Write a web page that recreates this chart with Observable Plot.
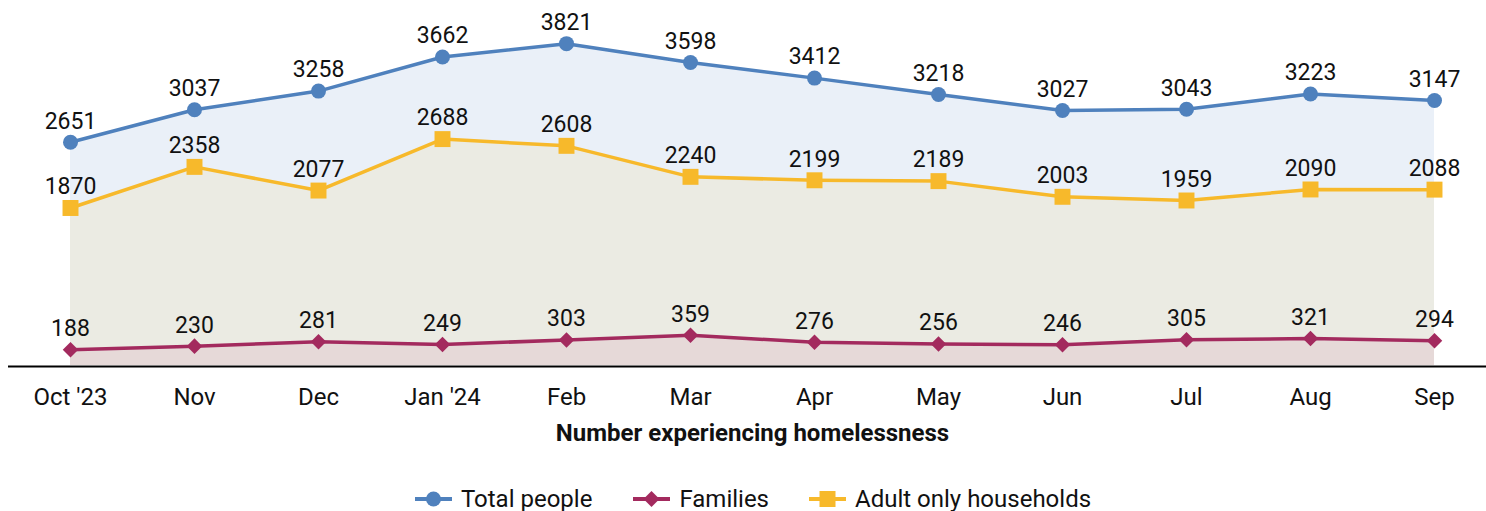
<!DOCTYPE html>
<html>
<head>
<meta charset="utf-8">
<script src="https://cdn.jsdelivr.net/npm/d3@7"></script>
<script src="https://cdn.jsdelivr.net/npm/@observablehq/plot@0.6"></script>
<style>
  body { margin: 0; background: #fff; font-family: Roboto, sans-serif; }
  #chart svg { display: block; }
  #legend { display: flex; justify-content: center; align-items: center; height: 38px; font-size: 24px; color: #111; padding-left: 20px; }
  .item { display: flex; align-items: center; }
  .item svg { display: block; margin-right: 9px; }
</style>
</head>
<body>
<div id="chart"></div>
<div id="legend"></div>
<script>
const months = ["Oct '23","Nov","Dec","Jan '24","Feb","Mar","Apr","May","Jun","Jul","Aug","Sep"];
const total = [2651,3037,3258,3662,3821,3598,3412,3218,3027,3043,3223,3147];
const families = [188,230,281,249,303,359,276,256,246,305,321,294];
const adult = [1870,2358,2077,2688,2608,2240,2199,2189,2003,1959,2090,2088];

const seriesNames = ["Total people","Families","Adult only households"];
const colors = {"Total people":"#4f81bd","Families":"#a32a5e","Adult only households":"#f7b92b"};
const fills = {"Total people":"#eaf0f8","Families":"#e6d9d8","Adult only households":"#ebebe3"};

const rows = (name, vals) => months.map((m, i) => ({month: m, value: vals[i], series: name}));
const T = rows("Total people", total);
const F = rows("Families", families);
const A = rows("Adult only households", adult);

const chart = Plot.plot({
  width: 1486,
  height: 480,
  marginLeft: 8,
  marginRight: 0,
  marginTop: 20,
  marginBottom: 114,
  style: {fontFamily: "Roboto, sans-serif", fontSize: "24px", color: "#111", background: "#fff"},
  x: {type: "point", domain: months, range: [65, 1439], padding: 0},
  y: {domain: [0, 4096], range: [365, 20], axis: null},
  marks: [
    Plot.areaY(T, {x: "month", y: "value", fill: fills["Total people"]}),
    Plot.areaY(A, {x: "month", y: "value", fill: fills["Adult only households"]}),
    Plot.areaY(F, {x: "month", y: "value", fill: fills["Families"]}),
    Plot.ruleY([0], {stroke: "#000", strokeWidth: 2, dy: 1}),
    Plot.lineY(T, {x: "month", y: "value", stroke: colors["Total people"], strokeWidth: 3.5}),
    Plot.lineY(A, {x: "month", y: "value", stroke: colors["Adult only households"], strokeWidth: 3.5}),
    Plot.lineY(F, {x: "month", y: "value", stroke: colors["Families"], strokeWidth: 3.5}),
    Plot.dot(T, {x: "month", y: "value", fill: colors["Total people"], symbol: "circle", r: 7.5}),
    Plot.dot(A, {x: "month", y: "value", fill: colors["Adult only households"], symbol: "square", r: 9}),
    Plot.dot(F, {x: "month", y: "value", fill: colors["Families"], symbol: "diamond2", r: 7}),
    Plot.text(T, {x: "month", y: "value", text: d => String(d.value), dy: -21, fontSize: 23, fill: "#111"}),
    Plot.text(A, {x: "month", y: "value", text: d => String(d.value), dy: -21, fontSize: 23, fill: "#111"}),
    Plot.text(F, {x: "month", y: "value", text: d => String(d.value), dy: -21, fontSize: 23, fill: "#111"}),
    Plot.axisX({tickSize: 0, tickPadding: 21, fontSize: 24, label: null}),
    Plot.text(["Number experiencing homelessness"], {frameAnchor: "bottom", lineAnchor: "middle", dy: 67, dx: 5, fontSize: 24, fontWeight: "bold", fill: "#111"})
  ]
});
document.getElementById("chart").appendChild(chart);

const legend = document.getElementById("legend");
const symbolPaths = {
  "Total people": '<circle cx="18.5" cy="10" r="7.5"/>',
  "Families": '<path d="M18.5,2 L26.5,10 L18.5,18 L10.5,10 Z"/>',
  "Adult only households": '<rect x="10.5" y="2" width="16" height="16"/>'
};
const gaps = [0, 41, 40];
seriesNames.forEach((name, i) => {
  const item = document.createElement("div");
  item.className = "item";
  item.style.marginLeft = gaps[i] + "px";
  item.innerHTML = `<svg width="37" height="20"><line x1="0" x2="37" y1="10" y2="10" stroke="${colors[name]}" stroke-width="4"/><g fill="${colors[name]}">${symbolPaths[name]}</g></svg><span>${name}</span>`;
  legend.appendChild(item);
});
</script>
</body>
</html>
